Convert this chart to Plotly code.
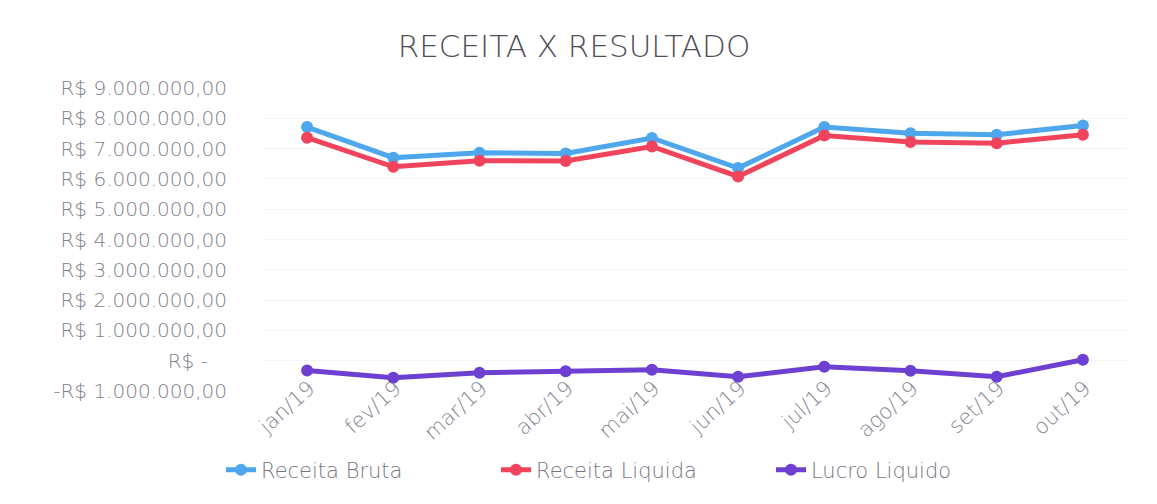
import plotly.graph_objects as go

months = ["jan/19", "fev/19", "mar/19", "abr/19", "mai/19", "jun/19",
          "jul/19", "ago/19", "set/19", "out/19"]
receita_bruta = [7710000, 6700000, 6860000, 6840000, 7350000, 6360000,
                 7710000, 7510000, 7460000, 7760000]
receita_liquida = [7360000, 6400000, 6600000, 6590000, 7070000, 6080000,
                   7430000, 7220000, 7180000, 7460000]
lucro_liquido = [-320000, -560000, -400000, -350000, -300000, -530000,
                 -200000, -330000, -530000, 30000]

y_tickvals = [-1000000, 0, 1000000, 2000000, 3000000, 4000000, 5000000,
              6000000, 7000000, 8000000, 9000000]
y_ticktext = ["-R$ 1.000.000,00", "R$ -\u00a0\u00a0\u00a0", "R$ 1.000.000,00",
              "R$ 2.000.000,00", "R$ 3.000.000,00", "R$ 4.000.000,00",
              "R$ 5.000.000,00", "R$ 6.000.000,00", "R$ 7.000.000,00",
              "R$ 8.000.000,00", "R$ 9.000.000,00"]

series = [
    ("Receita Bruta", receita_bruta, "#4ea7ec"),
    ("Receita Liquida", receita_liquida, "#f0435c"),
    ("Lucro Liquido", lucro_liquido, "#6e40d2"),
]

fig = go.Figure()
for name, vals, color in series:
    fig.add_trace(go.Scatter(
        x=months, y=vals, name=name, mode="lines+markers",
        line=dict(color=color, width=5),
        marker=dict(color=color, size=12),
    ))

W, H = 1141, 488
font_family = "DejaVu Sans, sans-serif"
fig.update_layout(
    width=W, height=H,
    paper_bgcolor="white", plot_bgcolor="white",
    margin=dict(l=256, r=23, t=80, b=105, autoexpand=False),
    title=dict(text="RECEITA X RESULTADO", x=566 / W, xref="container", xanchor="center",
               y=1 - 38 / H, yref="container", yanchor="middle",
               font=dict(family=font_family, size=31, color="#4e4e58", weight=300)),
    font=dict(family=font_family, color="#80808c"),
    xaxis=dict(type="category", range=[-0.5, 9.5], tickangle=-42,
               showgrid=False, showline=False, zeroline=False, ticks="",
               ticklabelshift=2, ticklabelstandoff=-20,
               tickfont=dict(size=21, color="#868692", weight=300)),
    yaxis=dict(range=[-1000000, 9000000], tickvals=y_tickvals, ticktext=y_ticktext,
               showgrid=True, gridcolor="#f4f4f4", gridwidth=1,
               zeroline=False, showline=False, ticks="",
               ticklabelstandoff=36,
               tickfont=dict(size=20, color="#80808c", weight=300)),
    legend=dict(orientation="h", xref="container", yref="container",
                x=213 / W, xanchor="left", y=(H - 462) / H, yanchor="middle",
                entrywidth=230, entrywidthmode="pixels",
                font=dict(size=21, color="#76767f", weight=300)),
    showlegend=True,
)

fig.write_html("out.html")
